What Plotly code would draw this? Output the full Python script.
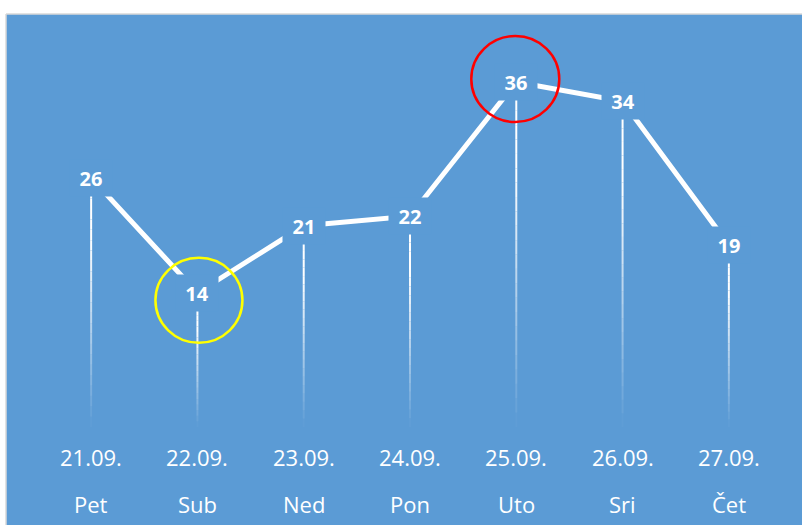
import plotly.graph_objects as go

dates = ["21.09.", "22.09.", "23.09.", "24.09.", "25.09.", "26.09.", "27.09."]
days = ["Pet", "Sub", "Ned", "Pon", "Uto", "Sri", "Čet"]
values = [26, 14, 21, 22, 36, 34, 19]
low_idx = 1   # yellow circle
high_idx = 4  # red circle

BLUE = "#5B9BD5"
FONT = "Open Sans"
xs = list(range(len(values)))

# figure-pixel geometry (body margin removed by post_script)
L, R, T, B = 38, 20, 15, 98
PW, PH = 802 - L - R, 525 - T - B

def py(fy):  # figure pixel y -> paper y
    return (525 - B - fy) / PH

def px(fx):  # figure pixel x -> paper x
    return (fx - L) / PW

fig = go.Figure()

# gradient drop lines (white fading to transparent toward the axis)
N = 24
for k in range(N):
    t0, t1 = k / N, (k + 1) / N
    a = max(0.0, min(1.0, 1.35 * (1 - (t0 + t1) / 2)))
    lx, ly = [], []
    for i, v in zip(xs, values):
        lx += [i, i, None]
        ly += [v * (1 - t0), v * (1 - t1), None]
    fig.add_trace(go.Scatter(x=lx, y=ly, mode="lines",
                             line=dict(color=f"rgba(255,255,255,{a:.3f})", width=2),
                             hoverinfo="skip", showlegend=False))

# main line
fig.add_trace(go.Scatter(x=xs, y=values, mode="lines",
                         line=dict(color="white", width=5),
                         hoverinfo="skip", showlegend=False))

annotations = []
for i, v in zip(xs, values):
    annotations.append(dict(x=i, y=v, xref="x", yref="y", text=f"<b>{v}</b>",
                            showarrow=False, bgcolor=BLUE, width=42, height=36,
                            borderpad=0, xanchor="center", yanchor="middle",
                            font=dict(family=FONT, size=20, color="white")))
for i, d, w in zip(xs, dates, days):
    annotations.append(dict(x=i, y=0, xref="x", yref="paper", text=d, showarrow=False,
                            yanchor="middle", yshift=-30,
                            font=dict(family=FONT, size=22, color="white")))
    annotations.append(dict(x=i, y=0, xref="x", yref="paper", text=w, showarrow=False,
                            yanchor="middle", yshift=-77,
                            font=dict(family=FONT, size=22, color="white")))

shapes = [
    # white top / left strips and thin grey border
    dict(type="rect", xref="paper", yref="paper", x0=px(-2), x1=px(804), y0=py(14), y1=py(-2),
         fillcolor="white", line=dict(width=0), layer="below"),
    dict(type="rect", xref="paper", yref="paper", x0=px(-2), x1=px(6), y0=py(530), y1=py(-2),
         fillcolor="white", line=dict(width=0), layer="below"),
    dict(type="line", xref="paper", yref="paper", x0=px(6), x1=px(804), y0=py(14), y1=py(14),
         line=dict(color="#D9D9D9", width=1.5), layer="below"),
    dict(type="line", xref="paper", yref="paper", x0=px(6), x1=px(6), y0=py(530), y1=py(14),
         line=dict(color="#D9D9D9", width=1.5), layer="below"),
    # highlight circles
    dict(type="circle", xref="x", yref="y", xsizemode="pixel", ysizemode="pixel",
         xanchor=low_idx, yanchor=values[low_idx], x0=-42, x1=45, y0=-50, y1=35,
         line=dict(color="#FFFF00", width=2.5)),
    dict(type="circle", xref="x", yref="y", xsizemode="pixel", ysizemode="pixel",
         xanchor=high_idx, yanchor=values[high_idx], x0=-45, x1=43, y0=-40, y1=46,
         line=dict(color="#FF0000", width=2.5)),
]

fig.update_layout(
    width=802, height=525,
    margin=dict(l=L, r=R, t=T, b=B),
    paper_bgcolor=BLUE, plot_bgcolor=BLUE,
    xaxis=dict(range=[-0.5, 6.5], visible=False, fixedrange=True),
    yaxis=dict(range=[0, 43], visible=False, fixedrange=True),
    annotations=annotations, shapes=shapes, showlegend=False,
)

fig.write_html(
    "out.html",
    config={"displayModeBar": False},
    post_script="document.body.style.margin='0';"
                "document.body.style.overflow='hidden';"
                "document.documentElement.style.overflow='hidden';",
)
